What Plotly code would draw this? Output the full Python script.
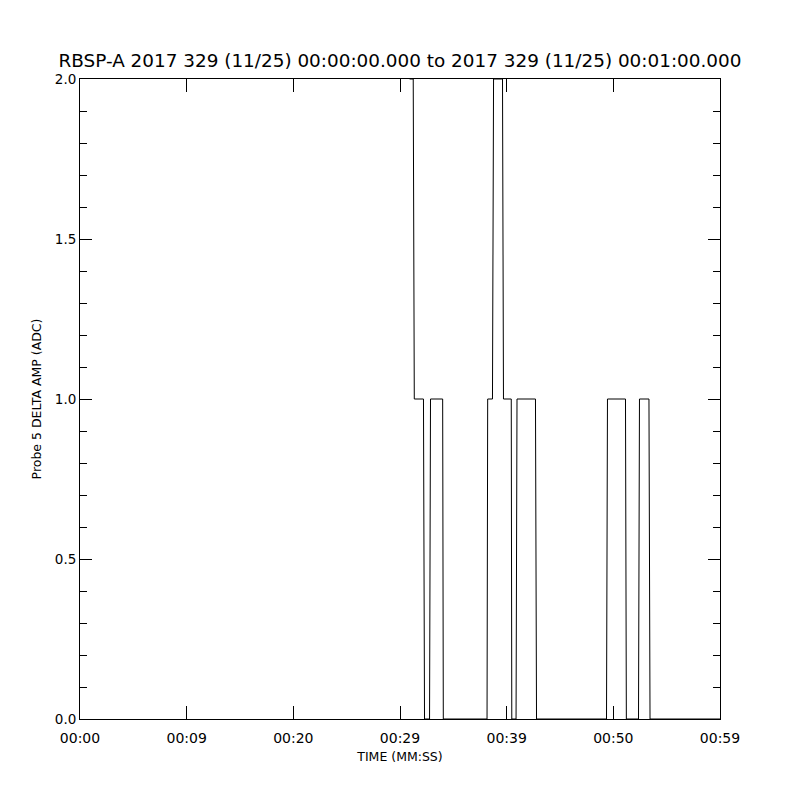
import plotly.graph_objects as go

# Transition points (seconds since 00:00:00, value in ADC)
time_s = [30.9, 31.24, 31.34, 32.20, 32.30, 32.77, 32.86, 34.00, 34.06,
          38.16, 38.22, 38.67, 38.77, 39.61, 39.70, 40.43, 40.48,
          40.88, 40.97, 42.70, 42.80, 49.36, 49.45, 51.14, 51.22,
          52.36, 52.45, 53.34, 53.44, 60.0]
amp_adc = [2, 2, 1, 1, 0, 0, 1, 1, 0,
           0, 1, 1, 2, 2, 1, 1, 0,
           0, 1, 1, 0, 0, 1, 1, 0,
           0, 1, 1, 0, 0]

x_tick_vals = [0, 10, 20, 30, 40, 50, 60]
x_tick_text = ["00:00", "00:09", "00:20", "00:29", "00:39", "00:50", "00:59"]
y_tick_vals = [0.0, 0.5, 1.0, 1.5, 2.0]
y_tick_text = ["0.0", "0.5", "1.0", "1.5", "2.0"]

title_text = "RBSP-A 2017 329 (11/25) 00:00:00.000 to 2017 329 (11/25) 00:01:00.000"

fig = go.Figure()
fig.add_trace(go.Scatter(x=time_s, y=amp_adc, mode="lines",
                         line=dict(color="black", width=1), showlegend=False))

fnt = "DejaVu Sans"
fig.update_layout(
    width=800, height=800,
    margin=dict(l=72, r=88, t=71, b=89),
    paper_bgcolor="white", plot_bgcolor="white",
    title=dict(text=title_text, x=392 / 800, xanchor="center", y=1 - 53 / 800,
               yanchor="middle", font=dict(family=fnt, size=18.4, color="black")),
    font=dict(family=fnt, color="black"),
)
fig.update_xaxes(
    range=[0, 60], tickvals=x_tick_vals, ticktext=x_tick_text,
    ticks="inside", ticklen=13, tickwidth=1, tickcolor="black",
    showline=True, linecolor="black", linewidth=1, mirror="allticks",
    showgrid=False, zeroline=False,
    tickfont=dict(family=fnt, size=14, color="black"),
    ticklabelstandoff=6,
    title=dict(text="TIME (MM:SS)", font=dict(family=fnt, size=12.5, color="black"), standoff=7),
)
fig.update_yaxes(
    range=[0, 2], tickvals=y_tick_vals, ticktext=y_tick_text,
    ticks="inside", ticklen=12, tickwidth=1, tickcolor="black",
    minor=dict(dtick=0.1, ticks="inside", ticklen=7, tickcolor="black", tickwidth=1, showgrid=False),
    showline=True, linecolor="black", linewidth=1, mirror="allticks",
    showgrid=False, zeroline=False,
    tickfont=dict(family=fnt, size=13.5, color="black"),
    title=dict(text="Probe 5 DELTA AMP (ADC)", font=dict(family=fnt, size=12.5, color="black"), standoff=10),
)

fig.write_html("out.html")
